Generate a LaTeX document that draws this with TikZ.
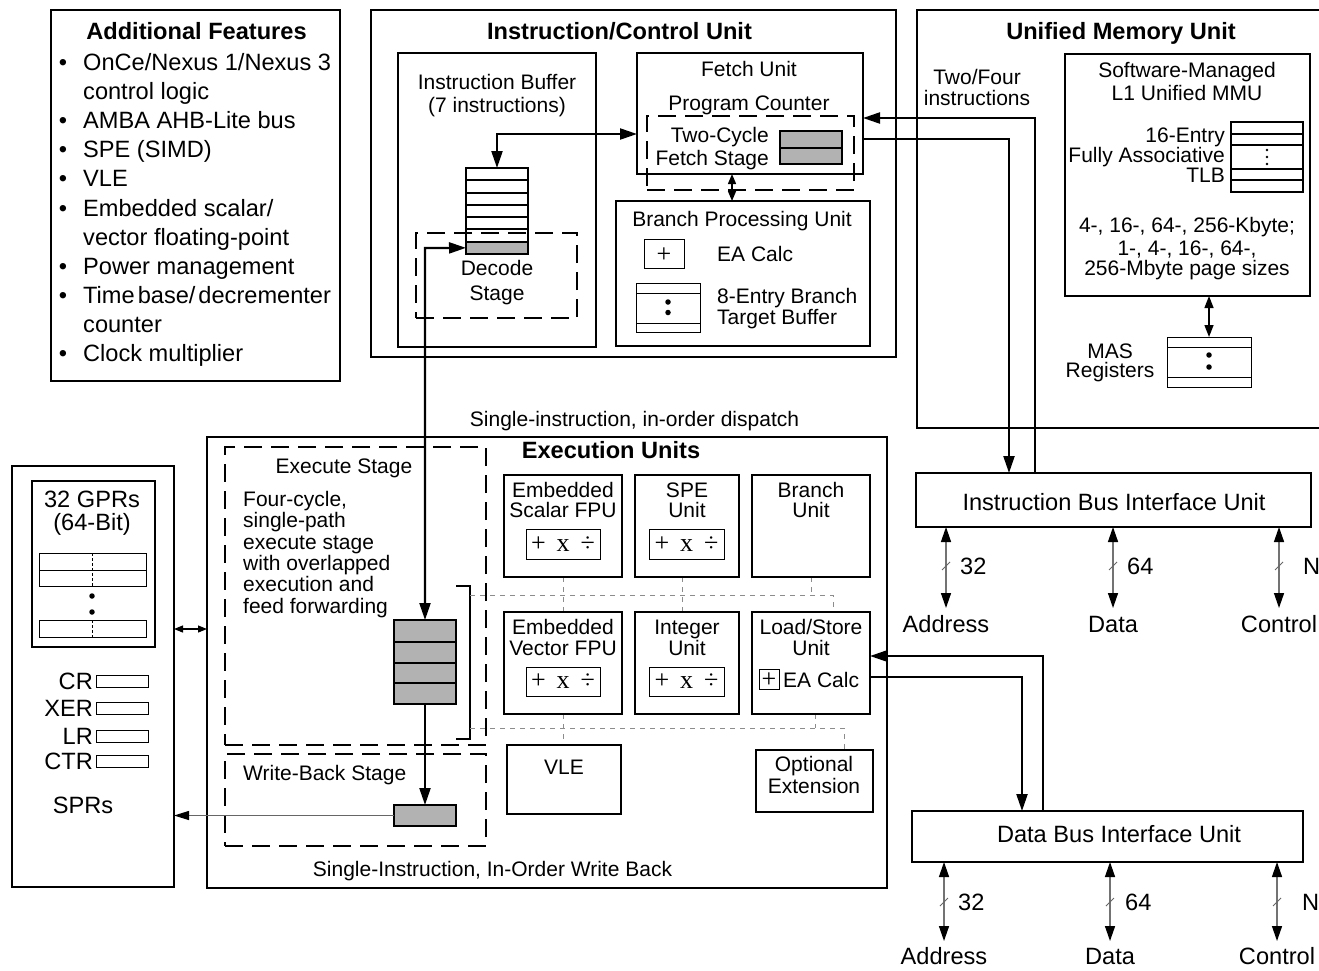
\documentclass[tikz,border=0pt]{standalone}
\usepackage{fontspec}
\setmainfont{Liberation Sans}
\newfontfamily\serifx{Liberation Serif}
\usetikzlibrary{arrows.meta}
\newcommand\fsml{\fontsize{21}{24}\selectfont}
\newcommand\flrg{\fontsize{23.6}{27}\selectfont}
\newcommand\opsfont{\serifx\fontsize{26}{28}\selectfont}
\newcommand\bx[6][]{\node[#1, inner sep=0pt, outer sep=0pt, anchor=north west, minimum width={(#4-#2)*1pt}, minimum height={(#5-#3)*1pt}] (#6) at (#2,#3) {};}
\begin{document}
\begin{tikzpicture}[x=1pt,y=-1pt,
  box/.style={draw, line width=2.6pt},
  ibox/.style={draw, line width=2.2pt},
  tbox/.style={draw, line width=1pt},
  dbox/.style={draw, line width=2.2pt, dash pattern=on 18pt off 9pt},
  gfill/.style={draw, line width=2pt, fill=black!30},
  gdot/.style={draw=black!45, line width=1pt, dash pattern=on 5pt off 5pt},
  t/.style={inner sep=0pt, anchor=base, font=\fsml},
  tl/.style={inner sep=0pt, anchor=base, font=\flrg},
  tb/.style={inner sep=0pt, anchor=base, font=\flrg\bfseries},
  ops/.style={inner sep=0pt, font=\opsfont},
  tip/.tip={Triangle[length=17pt,width=11pt]},
  stip/.tip={Triangle[length=15pt,width=10pt,color=black]},
  arr/.style={line width=2.2pt, -tip},
  darr/.style={line width=2.2pt, tip-tip},
  busarr/.style={line width=1.4pt, draw=black!55, stip-stip},
  slash/.style={line width=1pt, draw=black!60},
  dot/.style={circle, fill, inner sep=0pt, minimum size=5.5pt}
]
\useasboundingbox (0,0) rectangle (1319,970);
\clip (0,0) rectangle (1319,970);

% ---------------- Additional features
\bx[box]{51}{10}{340}{381}{feat}
\node[tb] (featt) at (196.5,39.5) {Additional Features};
\foreach \n/\yy in {b1/70.5,b2/128.7,b3/157.8,b4/186.9,b5/216,b6/274.2,b7/303.3,b8/361.5}
  \node[tl] (\n) at (63,\yy) {•};
\node[tl,anchor=base west] (fl1) at (83,70.5) {OnCe/Nexus 1/Nexus 3};
\node[tl,anchor=base west] (fl2) at (83,99.6) {control logic};
\node[tl,anchor=base west] (fl3) at (83,128.7) {AMBA AHB-Lite bus};
\node[tl,anchor=base west] (fl4) at (83,157.8) {SPE (SIMD)};
\node[tl,anchor=base west] (fl5) at (83,186.9) {VLE};
\node[tl,anchor=base west] (fl6) at (83,216) {Embedded scalar/};
\node[tl,anchor=base west] (fl7) at (83,245.1) {vector floating-point};
\node[tl,anchor=base west] (fl8) at (83,274.2) {Power management};
\node[tl,anchor=base west] (fl9) at (83,303.3) {Time\hspace{3pt}base/\hspace{3pt}decrementer};
\node[tl,anchor=base west] (fl10) at (83,332.4) {counter};
\node[tl,anchor=base west] (fl11) at (83,361.5) {Clock multiplier};

% ---------------- Instruction/Control Unit
\bx[box]{371}{10}{896}{357}{icu}
\node[tb] (icut) at (619.5,39.5) {Instruction/Control Unit};

\bx[ibox]{398}{53}{596}{347}{ibuf}
\node[t] (ibuft1) at (497,89.5) {Instruction Buffer};
\node[t] (ibuft2) at (497,112.5) {(7 instructions)};

\bx[ibox]{466}{168}{528}{254}{stack}
\foreach \yy in {180.3,192.6,204.9,217.1,229.4}
  \draw[line width=2pt] (466,\yy) -- (528,\yy);
\bx[gfill]{466}{241.7}{528}{254}{stackg}
\bx[dbox]{416}{233}{577}{318}{decode}
\node[t] (dect1) at (497,275.5) {Decode};
\node[t] (dect2) at (497,300.5) {Stage};

\bx[ibox]{637}{53}{863}{174}{fetch}
\node[t] (fetcht) at (749,76.5) {Fetch Unit};
\node[t] (pct) at (749,110.5) {Program Counter};
\bx[dbox]{647}{116}{854}{190}{fstage}
\node[t,anchor=base east] (fst1) at (769,142.5) {Two-Cycle};
\node[t,anchor=base east] (fst2) at (769,165.5) {Fetch Stage};
\bx[gfill]{780}{131}{842}{164}{fgrey}
\draw[line width=2pt] (fgrey.west) -- (fgrey.east);

\bx[ibox]{616}{201}{870}{346}{bpu}
\node[t] (bput) at (742,226.5) {Branch Processing Unit};
\bx[tbox]{644}{239}{684}{268}{bplus}
\node[ops] (bplust) at ([yshift=-2pt]bplus.center) {+};
\node[t,anchor=base west] (eac1) at (717,261.5) {EA Calc};
\bx[tbox]{636}{283}{700}{332}{btb}
\draw[line width=1pt] (636,293) -- (700,293) (636,323) -- (700,323);
\node[dot] (btbd1) at (668,302) {};
\node[dot] (btbd2) at (668,312.5) {};
\node[t,anchor=base west] (btbt1) at (717,303.5) {8-Entry Branch};
\node[t,anchor=base west] (btbt2) at (717,324.5) {Target Buffer};

% ---------------- Unified Memory Unit
\bx[box]{917}{10}{1340}{428}{umu}
\node[tb] (umut) at (1121,39.5) {Unified Memory Unit};
\node[t] (tf1) at (977,84.5) {Two/Four};
\node[t] (tf2) at (977,105.5) {instructions};
\bx[ibox]{1065}{54}{1310}{296}{mmu}
\node[t] (mmut1) at (1187,77.5) {Software-Managed};
\node[t] (mmut2) at (1187,100.5) {L1 Unified MMU};
\node[t,anchor=base east] (tlbt1) at (1225,142.5) {16-Entry};
\node[t,anchor=base east] (tlbt2) at (1225,162.5) {Fully Associative};
\node[t,anchor=base east] (tlbt3) at (1225,182.5) {TLB};
\bx[ibox]{1231}{122}{1303}{192}{tlb}
\draw[line width=2pt] (1231,134) -- (1303,134) (1231,145) -- (1303,145)
  (1231,169) -- (1303,169) (1231,180) -- (1303,180);
\foreach \yy in {150,157,164} \fill (1267,\yy) circle (1.3pt);
\node[t] (pg1) at (1187,232.5) {4-, 16-, 64-, 256-Kbyte;};
\node[t] (pg2) at (1187,255.5) {1-, 4-, 16-, 64-,};
\node[t] (pg3) at (1187,275.5) {256-Mbyte page sizes};
\bx[tbox]{1167}{337}{1251}{387}{mas}
\draw[line width=1pt] (1167,347) -- (1251,347) (1167,377) -- (1251,377);
\node[dot] (masd1) at (1209,355) {};
\node[dot] (masd2) at (1209,367) {};
\node[t] (mast1) at (1110,358.5) {MAS};
\node[t] (mast2) at (1110,377.5) {Registers};

% ---------------- Execution units
\node[t] (dispt) at (634.5,426.5) {Single-instruction, in-order dispatch};
\bx[box]{207}{437}{887}{888}{exu}
\node[tb] (exut) at (611,458.5) {Execution Units};
\bx[dbox]{225}{447}{486}{745}{exst}
\node[t] (exstt) at (344,473.5) {Execute Stage};
\node[t,anchor=base west] (p1) at (243,506.5) {Four-cycle,};
\node[t,anchor=base west] (p2) at (243,527.5) {single-path};
\node[t,anchor=base west] (p3) at (243,549.5) {execute stage};
\node[t,anchor=base west] (p4) at (243,570.5) {with overlapped};
\node[t,anchor=base west] (p5) at (243,591.5) {execution and};
\node[t,anchor=base west] (p6) at (243,613.5) {feed forwarding};
\bx[gfill]{394}{620}{456}{704}{exgrey}
\draw[line width=2pt] (394,642) -- (456,642) (394,663) -- (456,663) (394,683) -- (456,683);
\draw[line width=2pt] (456,586) -- (470,586) -- (470,739) -- (456,739);
\bx[dbox]{225}{754}{486}{846}{wb}
\node[t,anchor=base west] (wbt) at (243,780.5) {Write-Back Stage};
\bx[gfill]{394}{805}{456}{826}{wbgrey}
\node[t] (wbt2) at (492.5,876.5) {Single-Instruction, In-Order Write Back};

% grey dotted interconnect
\draw[gdot] (470,595) -- (833,595) -- (833,612);
\draw[gdot] (563,577) -- (563,612);
\draw[gdot] (682,577) -- (682,612);
\draw[gdot] (811,577) -- (811,595);
\draw[gdot] (470,728) -- (844,728) -- (844,750);
\draw[gdot] (563,714) -- (563,745);
\draw[gdot] (815,714) -- (815,728);

\bx[ibox]{504}{475}{622}{577}{esfpu}
\node[t] (esf1) at (563,497.5) {Embedded};
\node[t] (esf2) at (563,517.5) {Scalar FPU};
\bx[tbox]{526}{529}{600}{559}{ops1}
\node[ops] (ops1t) at (ops1) {+\hspace{11pt}x\hspace{11pt}÷};
\bx[ibox]{635}{475}{739}{577}{spe}
\node[t] (spe1) at (687,497.5) {SPE};
\node[t] (spe2) at (687,517.5) {Unit};
\bx[tbox]{649}{529}{724}{559}{ops2}
\node[ops] (ops2t) at (ops2) {+\hspace{11pt}x\hspace{11pt}÷};
\bx[ibox]{752}{475}{870}{577}{bru}
\node[t] (bru1) at (811,497.5) {Branch};
\node[t] (bru2) at (811,517.5) {Unit};

\bx[ibox]{504}{612}{622}{714}{evfpu}
\node[t] (evf1) at (563,634.5) {Embedded};
\node[t] (evf2) at (563,655.5) {Vector FPU};
\bx[tbox]{526}{667}{600}{696}{ops3}
\node[ops] (ops3t) at (ops3) {+\hspace{11pt}x\hspace{11pt}÷};
\bx[ibox]{635}{612}{739}{714}{intu}
\node[t] (int1) at (687,634.5) {Integer};
\node[t] (int2) at (687,655.5) {Unit};
\bx[tbox]{649}{667}{724}{696}{ops4}
\node[ops] (ops4t) at (ops4) {+\hspace{11pt}x\hspace{11pt}÷};
\bx[ibox]{752}{612}{870}{714}{lsu}
\node[t] (lsu1) at (811,634.5) {Load/Store};
\node[t] (lsu2) at (811,655.5) {Unit};
\bx[tbox]{759}{669}{779}{689}{lplus}
\node[ops] (lplust) at ([yshift=-1pt]lplus.center) {+};
\node[t,anchor=base west] (lea) at (783,687.5) {EA Calc};

\bx[ibox]{507}{745}{621}{814}{vle}
\node[t] (vlet) at (564,774.5) {VLE};
\bx[ibox]{756}{750}{873}{812}{opt}
\node[t] (opt1) at (814,771.5) {Optional};
\node[t] (opt2) at (814,793.5) {Extension};

% ---------------- GPR panel
\bx[box]{12}{466}{174}{887}{gprp}
\bx[ibox]{32}{481}{155}{647}{gprs}
\node[tl] (gprt1) at (92,507.5) {32 GPRs};
\node[tl] (gprt2) at (92,530.5) {(64-Bit)};
\bx[tbox]{39}{553}{146}{586}{rows}
\draw[line width=1pt] (39,570) -- (146,570);
\bx[tbox]{39}{620}{146}{637}{rowl}
\draw[line width=0.8pt, dash pattern=on 3pt off 2pt] (92,553) -- (92,586) (92,620) -- (92,637);
\node[dot] (gd1) at (92,596) {};
\node[dot] (gd2) at (92,612) {};
\node[tl,anchor=base east] (cr) at (93,689.5) {CR};
\node[tl,anchor=base east] (xer) at (93,716.5) {XER};
\node[tl,anchor=base east] (lr) at (93,744.5) {LR};
\node[tl,anchor=base east] (ctr) at (93,769.5) {CTR};
\bx[tbox]{96}{675}{148}{687}{crb}
\bx[tbox]{96}{702}{148}{714}{xerb}
\bx[tbox]{96}{730}{148}{742}{lrb}
\bx[tbox]{96}{755}{148}{767}{ctrb}
\node[tl] (sprt) at (83,813.5) {SPRs};

% ---------------- Bus interface units
\bx[ibox]{916}{473}{1311}{527}{ibiu}
\node[tl] (ibiut) at (1114,510.5) {Instruction Bus Interface Unit};
\bx[ibox]{912}{811}{1303}{862}{dbiu}
\node[tl] (dbiut) at (1119,842.5) {Data Bus Interface Unit};

\coordinate (ia) at (946,608);
\coordinate (id) at (1113,608);
\coordinate (ic) at (1279,608);
\coordinate (da) at (944,941);
\coordinate (dd) at (1110,941);
\coordinate (dc) at (1277,941);
\draw[busarr] (ibiu.south -| ia) -- (ia);
\draw[busarr] (ibiu.south -| id) -- (id);
\draw[busarr] (ibiu.south -| ic) -- (ic);
\draw[busarr] (dbiu.south -| da) -- (da);
\draw[busarr] (dbiu.south -| dd) -- (dd);
\draw[busarr] (dbiu.south -| dc) -- (dc);
\foreach \xx in {946,1113,1279} \draw[slash] (\xx-4,570) -- (\xx+4,562);
\foreach \xx in {944,1110,1277} \draw[slash] (\xx-4,906) -- (\xx+4,898);
\node[tl,anchor=base west] (i32) at (960,574.5) {32};
\node[tl,anchor=base west] (i64) at (1127,574.5) {64};
\node[tl,anchor=base west] (iN) at (1303,574.5) {N};
\node[tl] (iaddr) at (946,632.5) {Address};
\node[tl] (idata) at (1113,632.5) {Data};
\node[tl] (ictrl) at (1279,632.5) {Control};
\node[tl,anchor=base west] (d32) at (958,910.5) {32};
\node[tl,anchor=base west] (d64) at (1125,910.5) {64};
\node[tl,anchor=base west] (dN) at (1302,910.5) {N};
\node[tl] (daddr) at (944,964.5) {Address};
\node[tl] (ddata) at (1110,964.5) {Data};
\node[tl] (dctrl) at (1277,964.5) {Control};

% ---------------- connectors
\coordinate (q1) at (497,134);
\draw[darr] (stack.north) -- (q1) -- (fetch.west |- q1);
\coordinate (q2) at (425,248);
\draw[darr] (stackg.west) -- (q2) -- (exgrey.north -| q2);
\coordinate (q3) at (732,0);
\draw[line width=1.4pt, {Triangle[length=10pt,width=8pt]}-{Triangle[length=10pt,width=8pt]}] (fetch.south -| q3) -- (bpu.north -| q3);
\coordinate (q4) at (1035,118);
\draw[arr] (ibiu.north -| q4) -- (q4) -- (fetch.east |- q4);
\coordinate (q5) at (1009,139);
\draw[arr] (fetch.east |- q5) -- (q5) -- (ibiu.north -| q5);
\draw[line width=1.4pt, {Triangle[length=12pt,width=9pt]}-{Triangle[length=12pt,width=9pt]}] (mmu.south -| mas.north) -- (mas.north);
\draw[arr] (exgrey.south) -- (wbgrey.north);
\draw[line width=1.2pt, draw=black!60, -{Triangle[length=15pt,width=9pt,color=black]}] (wbgrey.west) -- (gprp.east |- wbgrey.west);
\coordinate (q7) at (0,629);
\draw[line width=1.2pt, {Triangle[length=9pt,width=7pt]}-{Triangle[length=9pt,width=7pt]}] (gprp.east |- q7) -- (exu.west |- q7);
\coordinate (q8) at (1043,656);
\draw[arr] (dbiu.north -| q8) -- (q8) -- (lsu.east |- q8);
\coordinate (q9) at (1022,677);
\draw[arr] (lsu.east |- q9) -- (q9) -- (dbiu.north -| q9);
\end{tikzpicture}
\end{document}
